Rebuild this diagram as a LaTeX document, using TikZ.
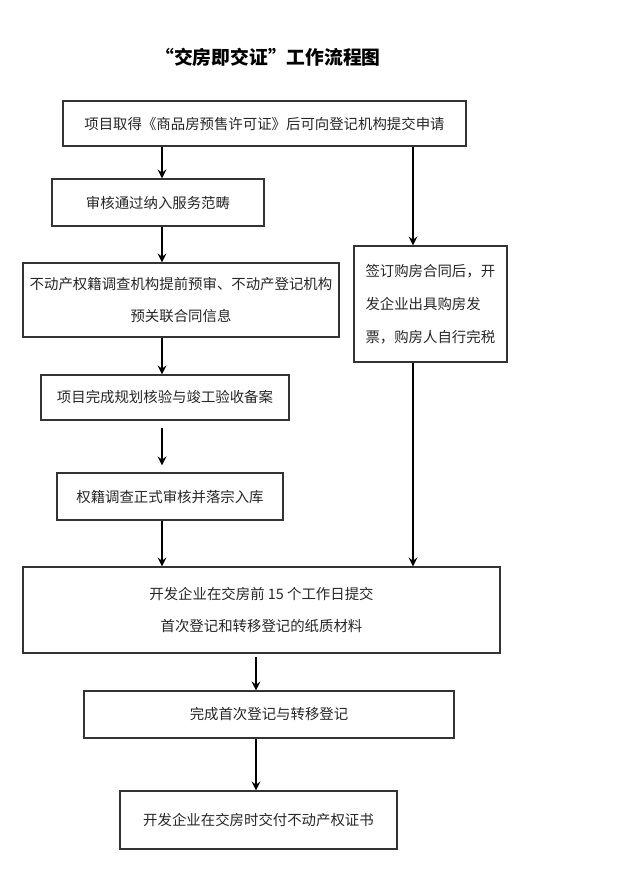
\documentclass[tikz,border=0pt]{standalone}
\usepackage{fontspec}
\setmainfont{Noto Sans CJK SC}
\usepackage{tikz}
\usetikzlibrary{shapes,arrows,positioning}

\begin{document}
\begin{tikzpicture}[x=0.02cm, y=-0.02cm,
    box/.style={rectangle, draw=black!80, line width=0.8pt, inner sep=0pt, text=black!85, align=center,
        font={\fontsize{8.2pt}{18.6pt}\selectfont}},
    arrow/.style={->, >=stealth, line width=1.2pt}]

    \useasboundingbox (0,0) rectangle (631,883);

    \node[font={\fontsize{10.7pt}{12pt}\selectfont\bfseries}] (title) at (268,57) {“交房即交证”工作流程图};

    \node[box, minimum width=8.06cm, minimum height=0.90cm] (apply) at (264.5,123.5) {项目取得《商品房预售许可证》后可向登记机构提交申请};
    \node[box, minimum width=4.24cm, minimum height=0.94cm] (review) at (158,202.5) {审核通过纳入服务范畴};
    \node[box, minimum width=6.32cm, minimum height=1.48cm] (precheck) at (181,300) {不动产权籍调查机构提前预审、不动产登记机构\\预关联合同信息};
    \node[box, minimum width=4.96cm, minimum height=0.90cm] (accept) at (165,397.5) {项目完成规划核验与竣工验收备案};
    \node[box, minimum width=4.52cm, minimum height=0.94cm] (survey) at (170,496.5) {权籍调查正式审核并落宗入库};
    \node[box, minimum width=3.06cm, minimum height=2.32cm, text width=2.6cm, align=left] (contract) at (430.5,304) {签订购房合同后，开\\发企业出具购房发\\票，购房人自行完税};
    \node[box, minimum width=9.54cm, minimum height=1.72cm] (submit) at (261.5,610) {开发企业在交房前 15 个工作日提交\\首次登记和转移登记的纸质材料};
    \node[box, minimum width=7.40cm, minimum height=0.94cm] (register) at (269,714.5) {完成首次登记与转移登记};
    \node[box, minimum width=5.54cm, minimum height=1.16cm] (deliver) at (258.5,820) {开发企业在交房时交付不动产权证书};

    % arrow columns
    \coordinate (lcol) at (162,0);
    \coordinate (rcol) at (413,0);
    \coordinate (mcol) at (256,0);

    \draw[arrow] (apply.south -| lcol) -- (review.north -| lcol);
    \draw[arrow] (review.south -| lcol) -- (precheck.north -| lcol);
    \draw[arrow] (precheck.south -| lcol) -- (accept.north -| lcol);
    \draw[arrow, shorten <=4pt, shorten >=4pt] (accept.south -| lcol) -- (survey.north -| lcol);
    \draw[arrow] (survey.south -| lcol) -- (submit.north -| lcol);
    \draw[arrow] (apply.south -| rcol) -- (contract.north -| rcol);
    \draw[arrow] (contract.south -| rcol) -- (submit.north -| rcol);
    \draw[arrow, shorten <=2pt] (submit.south -| mcol) -- (register.north -| mcol);
    \draw[arrow] (register.south -| mcol) -- (deliver.north -| mcol);

\end{tikzpicture}
\end{document}
